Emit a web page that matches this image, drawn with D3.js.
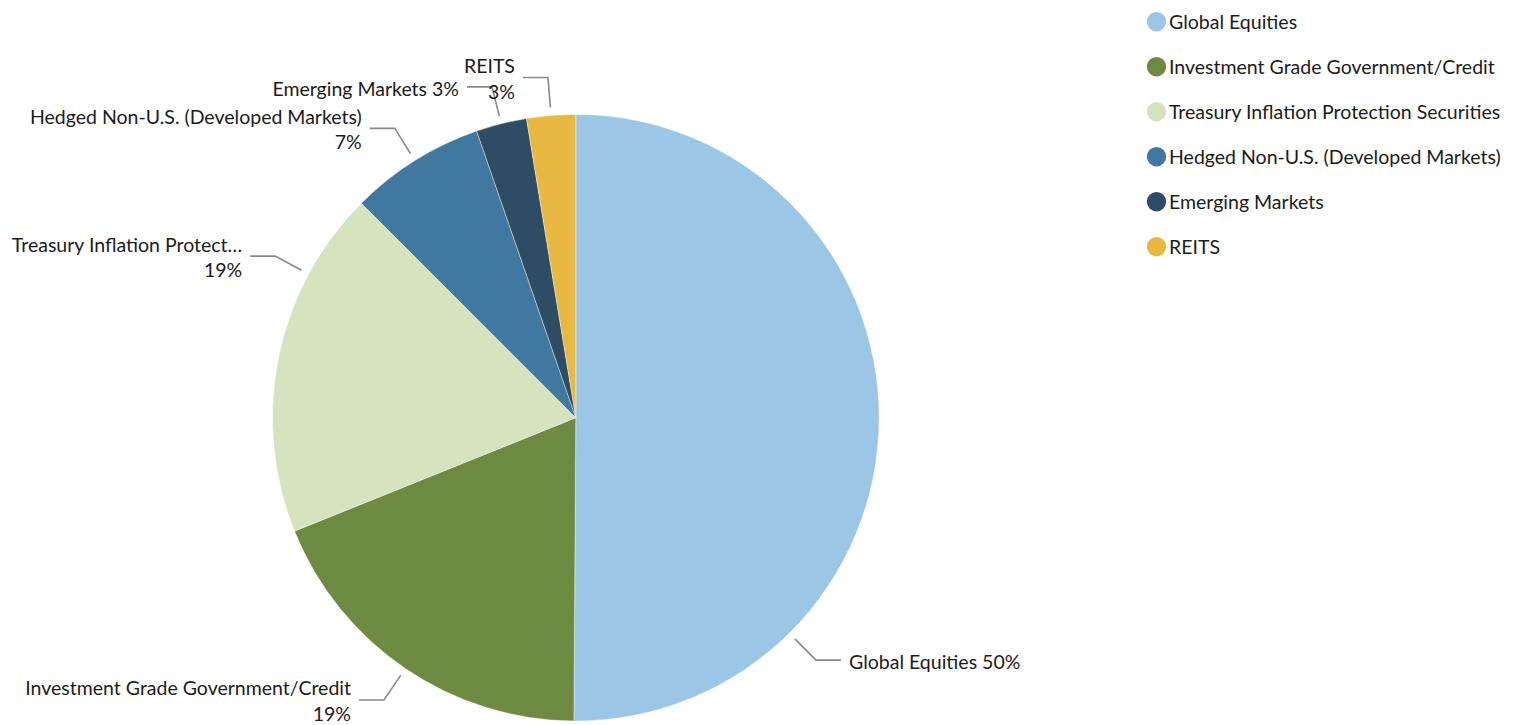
<!DOCTYPE html>
<html>
<head>
<meta charset="utf-8">
<script src="https://cdn.jsdelivr.net/npm/d3@7"></script>
<style>
  html, body { margin: 0; padding: 0; background: #ffffff; }
  svg { display: block; }
  text { font-family: Lato, "Open Sans", sans-serif; fill: #1b1b1b; }
</style>
</head>
<body>
<svg id="chart" width="1522" height="725"></svg>
<script>
// Portfolio allocation (percent of total)
const categories = [
  "Global Equities",
  "Investment Grade Government/Credit",
  "Treasury Inflation Protection Securities",
  "Hedged Non-U.S. (Developed Markets)",
  "Emerging Markets",
  "REITS"
];
const allocation = [50.1, 18.8, 18.6, 7.2, 2.7, 2.6];
const sliceColors = ["#9cc6e5", "#6e8a41", "#d5e3be", "#41789f", "#2f4c65", "#e9b841"];

// Label layout: where along each slice the leader line attaches,
// and whether the percentage goes on its own line.
const labelAttach = [0.75, 0.5, 0.75, 0.5, 0.5, 0.5];
const labelTwoLine = [false, true, true, true, false, true];

const W = 1522, H = 725;
const cx = 575.8, cy = 417.7, radius = 303.3;
const fontSize = 19.5;
const edgeMargin = 8;

const svg = d3.select("#chart");

const data = categories.map((name, i) => ({ name, value: allocation[i], color: sliceColors[i], i }));
const total = d3.sum(allocation);

const pie = d3.pie().value(d => d.value).sort(null);
const arcs = pie(data);
const arc = d3.arc().innerRadius(0).outerRadius(radius);

const g = svg.append("g").attr("transform", `translate(${cx},${cy})`);

g.selectAll("path.slice")
  .data(arcs)
  .join("path")
  .attr("class", "slice")
  .attr("d", arc)
  .attr("fill", d => d.data.color)
  .attr("stroke", "#ffffff")
  .attr("stroke-width", 0.4);

// Leader lines and labels
const pctFmt = v => Math.round(v / total * 100) + "%";
const polar = (a, r) => [Math.sin(a) * r, -Math.cos(a) * r];

// Shorten a label with an ellipsis until it fits in the given width
function fitText(tspan, text, maxW) {
  tspan.text(text);
  if (tspan.node().getComputedTextLength() <= maxW) return;
  let n = text.length;
  while (n > 1) {
    n--;
    tspan.text(text.slice(0, n).trimEnd() + "…");
    if (tspan.node().getComputedTextLength() <= maxW) return;
  }
}

arcs.forEach(d => {
  const i = d.data.i;
  const a = d.startAngle + labelAttach[i] * (d.endAngle - d.startAngle);
  const p1 = polar(a, radius + 8);
  const p2 = polar(a, radius + 38);
  const right = Math.sin(a) > 0;
  const dir = right ? 1 : -1;
  const p3 = [p2[0] + dir * 25, p2[1]];

  g.append("polyline")
    .attr("points", [p1, p2, p3].map(p => p.join(",")).join(" "))
    .attr("fill", "none")
    .attr("stroke", "#8a8a8a")
    .attr("stroke-width", 1.6);

  const pct = pctFmt(d.data.value);
  const t = g.append("text")
    .attr("text-anchor", right ? "start" : "end")
    .attr("font-size", fontSize)
    .attr("dominant-baseline", "central");
  const tx = p3[0] + dir * 8;
  const room = right ? (W - edgeMargin) - (cx + tx) : (cx + tx) - edgeMargin;
  if (labelTwoLine[i]) {
    const s1 = t.append("tspan").attr("x", tx).attr("y", p3[1] - 12.5);
    fitText(s1, d.data.name, room);
    t.append("tspan").attr("x", tx).attr("y", p3[1] + 13).text(pct);
  } else {
    const s = t.append("tspan").attr("x", tx).attr("y", p3[1] + 1);
    fitText(s, d.data.name + " " + pct, room);
  }
});

// Legend
const legend = svg.append("g").attr("transform", "translate(1156.5,21.7)");
const items = legend.selectAll("g.item")
  .data(data)
  .join("g")
  .attr("class", "item")
  .attr("transform", (d, i) => `translate(0,${i * 45})`);
items.append("circle").attr("r", 9.7).attr("fill", d => d.color);
items.append("text")
  .attr("x", 12.5)
  .attr("y", 0)
  .attr("font-size", fontSize)
  .attr("dominant-baseline", "central")
  .text(d => d.name);
</script>
</body>
</html>
